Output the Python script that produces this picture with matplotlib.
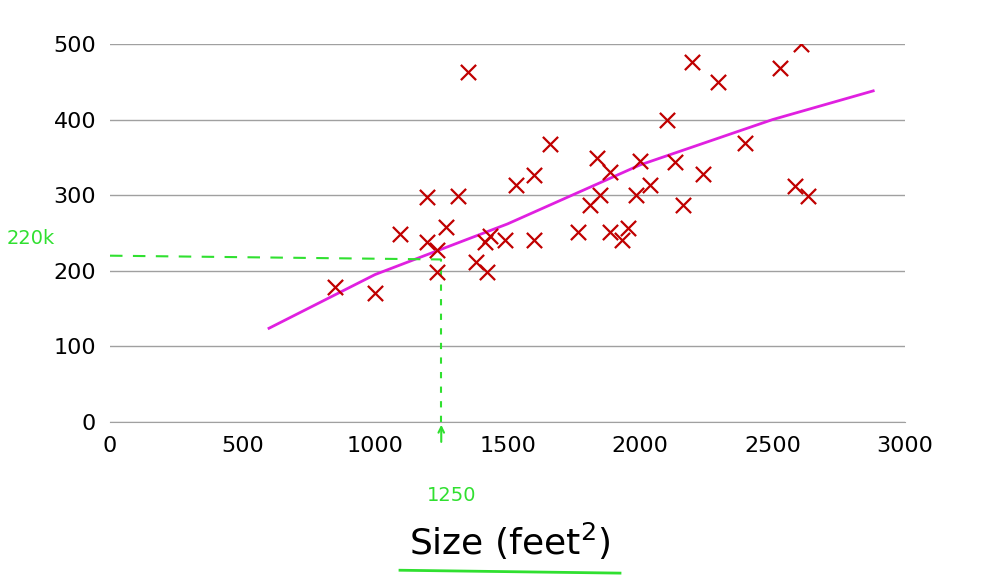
import matplotlib
matplotlib.use("Agg")
import matplotlib.pyplot as plt

size = [850,1000,1094,1196,1196,1234,1234,1268,1313,1381,1415,1423,1434,1491,1351,1532,1600,1600,1660,1766,1811,1838,1849,1887,1887,1932,1955,1985,2000,2038,2102,2132,2162,2196,2238,2294,2396,2528,2585,2608,2634]
price = [178,170,249,298,238,228,198,258,299,212,238,198,246,241,463,313,327,241,368,251,287,349,300,331,251,241,257,300,345,313,399,344,287,476,328,450,369,468,312,500,299]
fit_x = [600,1000,1500,2000,2500,2880]
fit_y = [124,195,262,340,400,438]

fig = plt.figure(figsize=(10,5.76), dpi=100)
ax = fig.add_axes([0.11, 1-422/576, 0.795, (422-44)/576])
ax.set_xlim(0,3000); ax.set_ylim(0,500)
ax.set_yticks(range(0,501,100)); ax.set_xticks(range(0,3001,500))
ax.grid(axis='y', color='#a0a0a0', lw=1)
ax.set_axisbelow(True)
for s in ax.spines.values(): s.set_visible(False)
ax.spines['bottom'].set_visible(True); ax.spines['bottom'].set_color('#a0a0a0')
ax.tick_params(length=0, labelsize=16, pad=10)
ax.plot(fit_x, fit_y, color='#e020e0', lw=2)
ax.scatter(size, price, marker='x', color='#c00000', s=120, linewidths=1.6, zorder=3)
ax.plot([1250,1250],[0,215], color='#30e030', ls=(0,(3,4)), lw=1.5, clip_on=False)
ax.plot([0,1250],[220,215], color='#30e030', ls=(0,(6,5)), lw=1.5, clip_on=False)
ax.annotate('', xy=(1250,0), xytext=(1250,-30), annotation_clip=False,
            arrowprops=dict(arrowstyle='->', color='#30e030', lw=1.5))
ax.text(-300, 235, '220k', color='#30e030', fontsize=14, ha='center', clip_on=False)
ax.text(1290, -105, '1250', color='#30e030', fontsize=14, ha='center', clip_on=False)
fig.text(0.51, 0.06, 'Size (feet$^2$)', fontsize=26, ha='center', va='center')
fig.add_artist(plt.Line2D([0.40,0.62],[0.01,0.005], color='#30e030', lw=2))
fig.savefig('out.png')
